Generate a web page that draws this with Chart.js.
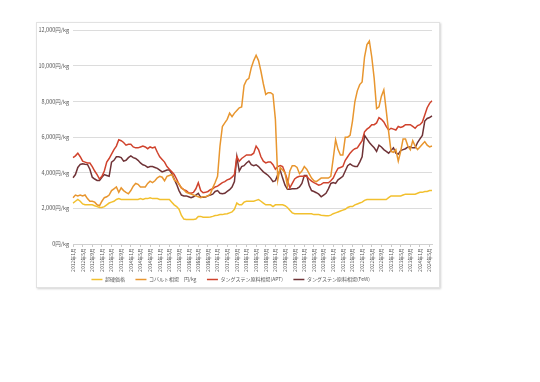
<!DOCTYPE html>
<html><head><meta charset="utf-8">
<script src="https://cdn.jsdelivr.net/npm/chart.js@4.4.1/dist/chart.umd.min.js"></script>
<style>
html,body{margin:0;padding:0;background:#fff;width:540px;height:382px;overflow:hidden;}
#card{position:absolute;left:36px;top:22px;width:402px;height:264px;border:1px solid #e2e2e2;box-shadow:1px 1px 2px rgba(0,0,0,0.18);background:#fff;}
canvas{display:block;}
</style></head><body>
<div id="card"><canvas id="c" width="402" height="264"></canvas></div>
<script>
const startYear = 2012, monthCount = 150;
const categories = [];
for (let i = 0; i < monthCount; i++) {
  const y = startYear + Math.floor(i / 12), m = (i % 12) + 1;
  categories.push(y + '年' + m + '月');
}
const yTicks = [0, 2000, 4000, 6000, 8000, 10000, 12000];
const seriesNames = ['超硬価格', 'コバルト相場　円/kg', 'タングステン原料相場(APT)', 'タングステン原料相場(FeW)'];

const carbide = [
2300,2400,2500,2400,2250,2200,2200,2200,2200,2150,
2100,2050,2050,2100,2200,2300,2350,2400,2500,2550,
2500,2500,2500,2500,2500,2500,2500,2500,2550,2500,
2550,2550,2600,2550,2550,2550,2500,2500,2500,2500,
2500,2350,2200,2100,1950,1600,1400,1380,1380,1380,
1380,1400,1550,1550,1500,1500,1500,1520,1550,1600,
1620,1650,1650,1680,1700,1750,1800,1950,2300,2200,
2200,2350,2400,2400,2400,2400,2450,2500,2400,2300,
2200,2200,2200,2100,2200,2200,2200,2200,2150,2050,
1900,1750,1700,1700,1700,1700,1700,1700,1700,1700,
1650,1650,1650,1620,1600,1580,1580,1620,1700,1750,
1800,1850,1900,1950,2050,2100,2100,2200,2250,2300,
2350,2450,2500,2500,2500,2500,2500,2500,2500,2500,
2500,2600,2700,2700,2700,2700,2700,2750,2800,2800,
2800,2800,2800,2850,2900,2900,2950,2950,3000,3000];

const cobalt = [
2600,2750,2700,2750,2700,2750,2550,2400,2400,2350,
2200,2150,2400,2600,2650,2750,3000,3100,3200,2900,
3150,3000,2900,2820,3000,3250,3400,3350,3200,3200,
3200,3400,3530,3450,3550,3720,3800,3750,3550,3800,
3850,3900,3600,3500,3380,3150,3050,2900,2850,2800,
2750,2700,2650,2600,2650,2650,2700,2800,3150,3450,
3800,5500,6600,6800,7000,7350,7150,7350,7500,7650,
7700,8900,9200,9300,9900,10300,10600,10300,9700,9000,
8400,8500,8500,8400,7000,3600,4300,4150,4000,3250,
4100,4400,4400,4300,3950,4100,4350,4200,3950,3700,
3550,3500,3600,3700,3700,3700,3700,3800,4800,5850,
5300,5000,5000,6000,6000,6100,6900,8000,8600,8950,
9100,10500,11200,11400,10500,9300,7600,7700,8300,8650,
7500,6300,5200,5150,5300,4650,5200,5900,5900,5500,
5300,5800,5500,5300,5450,5600,5750,5550,5450,5500];

const tungstenAPT = [
4850,4950,5100,4900,4650,4600,4550,4550,4350,4100,
3900,3650,3800,4100,4600,4800,5050,5300,5500,5850,
5800,5700,5550,5600,5600,5450,5400,5400,5450,5500,
5450,5350,5450,5400,5450,5150,4900,4750,4600,4350,
4200,4050,3900,3650,3350,3150,3050,3000,2880,2850,
2900,3100,3440,3000,2880,2900,2950,3050,3100,3200,
3250,3350,3450,3500,3600,3650,3750,3900,4900,4650,
4800,4900,5000,5000,5000,5100,5500,5300,4900,4650,
4550,4600,4600,4450,4200,4350,4400,4350,4000,3600,
3150,3400,3650,3750,3800,3800,3800,3800,3650,3530,
3450,3380,3300,3350,3440,3440,3440,3550,3700,4000,
4250,4300,4350,4700,4900,5100,5250,5350,5400,5600,
5800,6300,6450,6550,6700,6700,6800,7100,7000,6850,
6600,6400,6500,6450,6400,6600,6550,6600,6700,6700,
6700,6600,6500,6650,6700,6850,7250,7650,7900,8050];

const tungstenFeW = [
3720,3900,4300,4470,4500,4480,4470,4200,3750,3650,
3570,3570,3750,3900,3850,3800,4600,4700,4900,4900,
4850,4650,4700,4850,4950,4850,4800,4700,4550,4450,
4400,4300,4350,4350,4300,4250,4150,4050,4100,4150,
4150,3950,3650,3350,3000,2750,2700,2700,2650,2600,
2650,2750,2850,2620,2620,2640,2700,2750,2800,2950,
3000,2850,2820,2850,2950,3050,3200,3500,4900,4100,
4350,4400,4550,4650,4450,4400,4450,4350,4200,4050,
3950,3850,3700,3500,3550,3900,4150,3700,3300,3070,
3080,3100,3100,3120,3200,3400,3850,3850,3300,3000,
2950,2880,2800,2650,2750,2850,3100,3400,3450,3400,
3600,3700,3800,4100,4400,4500,4400,4350,4350,4600,
4900,6100,5900,5700,5550,5400,5200,5550,5450,5300,
5200,5100,5250,5400,5100,5050,5250,5300,5350,5450,
5450,5400,5400,5700,5900,6100,6900,7050,7100,7200];

const colors = ['#F2C02E', '#E8962F', '#D0432D', '#6F3337'];
const seriesData = [carbide, cobalt, tungstenAPT, tungstenFeW];
const FONT = '"Noto Sans CJK JP","Noto Sans",sans-serif';

new Chart(document.getElementById('c'), {
  type: 'line',
  data: {
    labels: categories,
    datasets: seriesNames.map((n, k) => ({
      label: n, data: seriesData[k], borderColor: colors[k], backgroundColor: colors[k],
      borderWidth: 1.5, pointRadius: 0, tension: 0, fill: false
    }))
  },
  options: {
    responsive: false, animation: false,
    layout: { padding: { top: 4, right: 7, left: 0, bottom: -5 } },
    plugins: {
      tooltip: { enabled: false },
      legend: {
        position: 'bottom',
        labels: { usePointStyle: true, pointStyle: 'line', pointStyleWidth: 11, boxHeight: 5,
          font: { family: FONT, size: 5 }, color: '#595959', padding: 3,
          generateLabels: chart => Chart.defaults.plugins.legend.labels.generateLabels(chart)
            .map(l => Object.assign(l, { text: l.text + '\u3000\u2002' })) }
      }
    },
    scales: {
      y: {
        min: 0, max: 12000,
        afterBuildTicks: s => { s.ticks = yTicks.map(v => ({ value: v })); },
        afterFit: s => { s.width = 36; },
        ticks: { callback: v => v.toLocaleString('en-US') + '円/kg', font: { family: FONT, size: 5.5 }, color: '#595959', padding: 4 },
        grid: { color: '#dcdcdc', drawTicks: false, lineWidth: 1 },
        border: { display: false }
      },
      x: {
        afterFit: s => { s.height = 30; },
        ticks: { autoSkip: false, maxRotation: 90, minRotation: 90, padding: 1,
          callback: (v, i) => (i % 4 === 0 ? categories[i] : ''),
          font: { family: FONT, size: 5 }, color: '#595959' },
        grid: { drawOnChartArea: false, tickLength: 3,
          color: c => (c.index % 4 === 0 ? '#c8c8c8' : 'rgba(0,0,0,0)') },
        border: { color: '#d0d0d0' }
      }
    }
  }
});
</script>
</body></html>
